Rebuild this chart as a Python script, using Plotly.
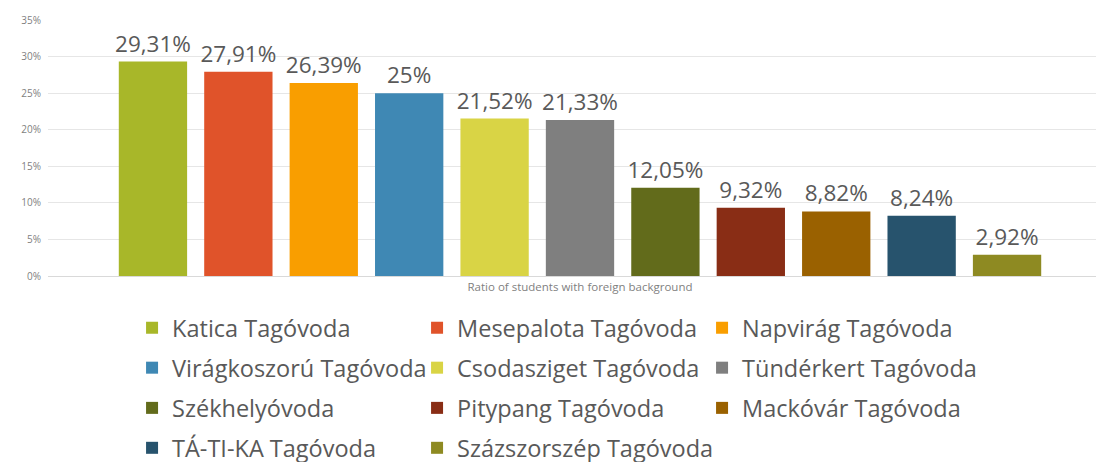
import plotly.graph_objects as go

category = "Ratio of students with foreign background"
names = [
    "Katica Tagóvoda", "Mesepalota Tagóvoda", "Napvirág Tagóvoda",
    "Virágkoszorú Tagóvoda", "Csodasziget Tagóvoda", "Tündérkert Tagóvoda",
    "Székhelyóvoda", "Pitypang Tagóvoda", "Mackóvár Tagóvoda",
    "TÁ-TI-KA Tagóvoda", "Százszorszép Tagóvoda",
]
values = [29.31, 27.91, 26.39, 25, 21.52, 21.33, 12.05, 9.32, 8.82, 8.24, 2.92]
colors = [
    "#A8B729", "#E0532A", "#F99E00", "#3F88B4", "#D9D445", "#7F7F7F",
    "#626B1B", "#892D15", "#9A6100", "#27536D", "#8E8A22",
]
# legend row each entry goes to
rows = ["legend", "legend", "legend", "legend2", "legend2", "legend2",
        "legend3", "legend3", "legend3", "legend4", "legend4"]

FONT = "Open Sans, Lato, sans-serif"

fig = go.Figure()
for name, v, c, lg in zip(names, values, colors, rows):
    fig.add_trace(go.Bar(
        x=[category], y=[v], name=name,
        marker=dict(color=c, line=dict(width=0)),
        text=[f"{v:g}".replace(".", ",") + "%"],
        textposition="outside",
        constraintext="none",
        cliponaxis=False,
        textfont=dict(size=22.5, color="#595959", family=FONT),
        legend=lg,
        legendwidth=300 if name == names[-1] else None,
        hoverinfo="skip",
    ))

legend_style = dict(
    orientation="h", xanchor="left", yanchor="middle", x=0.079,
    entrywidth=240, entrywidthmode="pixels",
    font=dict(size=23.5, color="#595959", family=FONT),
    bgcolor="rgba(0,0,0,0)", borderwidth=0,
)
row_y = [-0.203, -0.359, -0.516, -0.672]

fig.update_layout(
    width=1104, height=462,
    margin=dict(l=40, r=0, t=12, b=194, autoexpand=False),
    paper_bgcolor="white", plot_bgcolor="white",
    barmode="group", bargap=0.117, bargroupgap=0.2,
    showlegend=True,
    legend=dict(legend_style, y=row_y[0]),
    legend2=dict(legend_style, y=row_y[1]),
    legend3=dict(legend_style, y=row_y[2]),
    legend4=dict(legend_style, y=row_y[3]),
    xaxis=dict(
        showline=True, linecolor="#D9D9D9", linewidth=1,
        tickfont=dict(size=11.5, color="#7F7F7F", family=FONT),
        ticks="", showgrid=False,
    ),
    yaxis=dict(
        range=[0, 35], dtick=5, ticksuffix="%",
        showgrid=True, gridcolor="#E6E6E6", gridwidth=1,
        zeroline=False, showline=False, ticks="",
        tickfont=dict(size=10, color="#7F7F7F", family=FONT),
        ticklabelstandoff=6,
    ),
)

fig.write_html("out.html")
